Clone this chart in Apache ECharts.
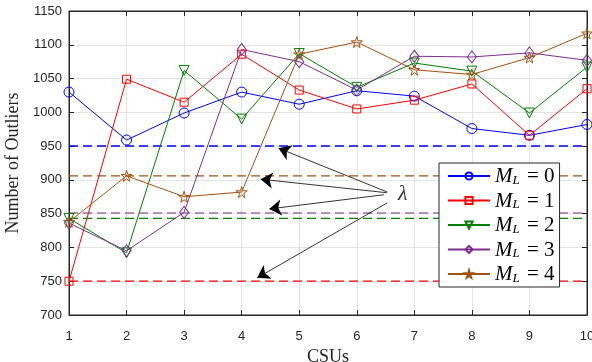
<!DOCTYPE html>
<html><head><meta charset="utf-8">
<script src="https://cdn.jsdelivr.net/npm/echarts@6/dist/echarts.min.js"></script>
<style>html,body{margin:0;padding:0;background:#fff}#c{width:592px;height:362px}</style>
</head><body><div id="c"></div>
<script>
const csus = [1,2,3,4,5,6,7,8,9,10];
const ml0 = [1030, 959, 999, 1030, 1012, 1032, 1024, 976, 966, 982];
const ml1 = [750, 1049, 1015, 1086, 1033, 1005, 1018, 1042, 966, 1035];
const ml2 = [843, 792, 1062, 990, 1087, 1037, 1073, 1061, 999, 1067];
const ml3 = [836, 795, 852, 1093, 1075, 1033, 1083, 1082, 1088, 1077];
const ml4 = [838, 906, 875, 882, 1086, 1104, 1063, 1056, 1081, 1117];
const thresholds = [950, 750, 843, 851, 906];
const yTicks = [700, 750, 800, 850, 900, 950, 1000, 1050, 1100, 1150];
const names = ['M_L = 0','M_L = 1','M_L = 2','M_L = 3','M_L = 4'];
const colors = ['#0000FF','#FF0000','#008000','#7E2F8E','#A2520F'];
const symbols = ['circle','rect','path://M0,0 L10,0 L5,9 Z','diamond','path://M50,0 L61,35 L98,35 L68,57 L79,91 L50,70 L21,91 L32,57 L2,35 L39,35 Z'];
const symbolSizes = [10, 8, 10, [9,12], 11];
const arrowStart = [[6.53,882],[6.52,881],[6.47,878],[6.53,866]];
const arrowEnd = [[4.64,947],[4.33,901],[4.48,857],[4.27,755]];
const lambdaPos = [6.8, 879];

const allData = [ml0, ml1, ml2, ml3, ml4];
const series = [];
allData.forEach((arr, i) => {
  series.push({
    name: names[i], type: 'line',
    data: csus.map((x, j) => [x, arr[j]]),
    symbol: symbols[i], symbolSize: symbolSizes[i], showAllSymbol: true,
    color: colors[i],
    lineStyle: {color: colors[i], width: 1},
    itemStyle: {color: 'rgba(255,255,255,0)', borderColor: colors[i], borderWidth: 1},
    z: 5
  });
});
thresholds.forEach((t, i) => {
  series.push({
    name: 'th' + i, type: 'line', silent: true,
    data: [[csus[0], t], [csus[csus.length-1], t]],
    symbol: 'none',
    lineStyle: {color: colors[i], width: i === 0 ? 1.5 : 1.2, type: [9, 5]},
    z: 3
  });
});
series.push({
  type: 'lines', coordinateSystem: 'cartesian2d', silent: true,
  data: arrowStart.map((s, i) => ({coords: [s, arrowEnd[i]]})),
  symbol: ['none', 'arrow'], symbolSize: [9, 12],
  lineStyle: {color: '#000', width: 0.8, opacity: 1},
  z: 6
});
series.push({
  type: 'scatter', silent: true, data: [lambdaPos], symbolSize: 0,
  label: {show: true, position: 'inside', formatter: 'λ', fontFamily: 'Liberation Serif', fontStyle: 'italic', fontSize: 22, color: '#000'},
  z: 6
});

const mathRich = {
  m: {fontFamily: 'Liberation Serif', fontStyle: 'italic', fontSize: 21, color: '#000'},
  s: {fontFamily: 'Liberation Serif', fontStyle: 'italic', fontSize: 13, color: '#000', verticalAlign: 'bottom', padding: [8,0,0,0]},
  e: {fontFamily: 'Liberation Serif', fontSize: 21, color: '#000', padding: [0,0,0,2]}
};

const tickLabelStyle = {fontFamily: 'Liberation Sans', fontSize: 13, color: '#262626'};
const chart = echarts.init(document.getElementById('c'), null, {renderer: 'canvas'});
chart.setOption({
  animation: false,
  backgroundColor: '#fff',
  grid: {left: 69, right: 5, top: 11, bottom: 47, show: true, borderColor: '#262626', borderWidth: 1,
         containLabel: false, outerBoundsMode: 'none'},
  legend: {
    data: names, orient: 'vertical', left: 439, top: 163,
    padding: [3, 5, 2, 8], itemGap: 3.5,
    itemWidth: 42, itemHeight: 9, itemTextGap: 5,
    backgroundColor: '#fff', borderColor: '#262626', borderWidth: 1,
    formatter: n => '{m|M}{s|L}{e| = ' + n.slice(-1) + '}',
    textStyle: {rich: mathRich, fontSize: 21, height: 20}
  },
  xAxis: [{
    type: 'value', min: 1, max: 10, interval: 1,
    name: 'CSUs', nameLocation: 'middle', nameGap: 30,
    nameTextStyle: {fontFamily: 'Liberation Serif', fontSize: 18, color: '#262626'},
    axisLine: {show: true, lineStyle: {color: '#262626'}},
    axisTick: {show: true, inside: true, length: 5, lineStyle: {color: '#262626'}},
    axisLabel: Object.assign({margin: 15}, tickLabelStyle),
    splitLine: {show: true, lineStyle: {color: '#e3e3e3', width: 1}}
  }, {
    type: 'value', min: 1, max: 10, interval: 1, position: 'top',
    axisLine: {show: true, lineStyle: {color: '#262626'}},
    axisTick: {show: true, inside: true, length: 5, lineStyle: {color: '#262626'}},
    axisLabel: {show: false}, splitLine: {show: false}
  }],
  yAxis: [{
    type: 'value', min: yTicks[0], max: yTicks[yTicks.length-1], interval: 50,
    name: 'Number of Outliers', nameLocation: 'middle', nameGap: 44,
    nameTextStyle: {fontFamily: 'Liberation Serif', fontSize: 18, color: '#262626'},
    axisLine: {show: true, lineStyle: {color: '#262626'}},
    axisTick: {show: true, inside: true, length: 5, lineStyle: {color: '#262626'}},
    axisLabel: Object.assign({margin: 7, formatter: v => String(v)}, tickLabelStyle),
    splitLine: {show: true, lineStyle: {color: '#e3e3e3', width: 1}}
  }, {
    type: 'value', min: yTicks[0], max: yTicks[yTicks.length-1], interval: 50, position: 'right',
    axisLine: {show: true, lineStyle: {color: '#262626'}},
    axisTick: {show: true, inside: true, length: 5, lineStyle: {color: '#262626'}},
    axisLabel: {show: false}, splitLine: {show: false}
  }],
  series: series
});
</script></body></html>
